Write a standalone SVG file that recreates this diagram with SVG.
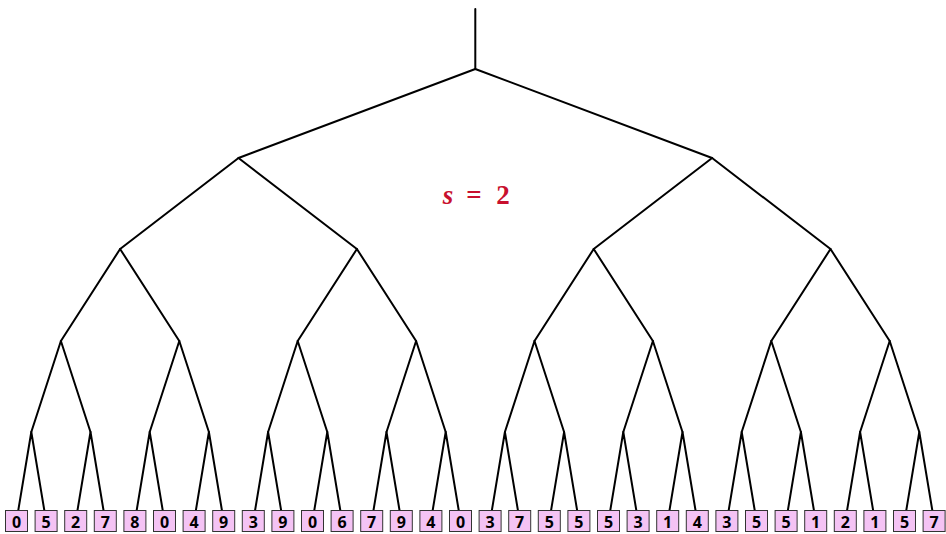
<svg xmlns="http://www.w3.org/2000/svg" width="946" height="534" viewBox="0 0 946 534">
<style>
.e{stroke:#000;stroke-width:2;fill:none;stroke-linecap:round}
.b{fill:#f4c3f4;stroke:#333;stroke-width:1}
.t{font-family:"Open Sans","DejaVu Sans",sans-serif;font-weight:bold;font-size:16px;text-anchor:middle;fill:#000}
.s{font-family:"Liberation Serif",serif;font-weight:bold;font-size:27px;fill:#c8102e;text-anchor:middle}
</style>
<rect width="946" height="534" fill="#fff"/>
<g id="connectors">
<path class="e" d="M475.3,9V69"/>
<path class="e" d="M475.3,69L238.5,158M475.3,69L712.1,158"/>
<path class="e" d="M238.5,158L120.1,249M238.5,158L356.9,249M712.1,158L593.7,249M712.1,158L830.5,249"/>
<path class="e" d="M120.1,249L60.9,341M120.1,249L179.3,341M356.9,249L297.7,341M356.9,249L416.1,341M593.7,249L534.5,341M593.7,249L652.9,341M830.5,249L771.3,341M830.5,249L889.7,341"/>
<path class="e" d="M60.9,341L31.3,432M60.9,341L90.5,432M179.3,341L149.7,432M179.3,341L208.9,432M297.7,341L268.1,432M297.7,341L327.3,432M416.1,341L386.5,432M416.1,341L445.7,432M534.5,341L504.9,432M534.5,341L564.1,432M652.9,341L623.3,432M652.9,341L682.5,432M771.3,341L741.7,432M771.3,341L800.9,432M889.7,341L860.1,432M889.7,341L919.3,432"/>
<path class="e" d="M31.3,432L16.5,521M31.3,432L46.1,521M90.5,432L75.7,521M90.5,432L105.3,521M149.7,432L134.9,521M149.7,432L164.5,521M208.9,432L194.1,521M208.9,432L223.7,521M268.1,432L253.3,521M268.1,432L282.9,521M327.3,432L312.5,521M327.3,432L342.1,521M386.5,432L371.7,521M386.5,432L401.3,521M445.7,432L430.9,521M445.7,432L460.5,521M504.9,432L490.1,521M504.9,432L519.7,521M564.1,432L549.3,521M564.1,432L578.9,521M623.3,432L608.5,521M623.3,432L638.1,521M682.5,432L667.7,521M682.5,432L697.3,521M741.7,432L726.9,521M741.7,432L756.5,521M800.9,432L786.1,521M800.9,432L815.7,521M860.1,432L845.3,521M860.1,432L874.9,521M919.3,432L904.5,521M919.3,432L934.1,521"/>
</g>
<g id="label">
<text class="s" x="448" y="204" font-style="italic" font-size="31">s</text>
<text class="s" x="474" y="204" font-size="29">=</text>
<text class="s" x="503" y="204">2</text>
</g>
<g id="leaves">
<g id="l0"><rect class="b" x="5.5" y="510.5" width="22" height="21"/><text class="t" x="16.5" y="528">0</text></g>
<g id="l1"><rect class="b" x="35.1" y="510.5" width="22" height="21"/><text class="t" x="46.1" y="528">5</text></g>
<g id="l2"><rect class="b" x="64.7" y="510.5" width="22" height="21"/><text class="t" x="75.7" y="528">2</text></g>
<g id="l3"><rect class="b" x="94.3" y="510.5" width="22" height="21"/><text class="t" x="105.3" y="528">7</text></g>
<g id="l4"><rect class="b" x="123.9" y="510.5" width="22" height="21"/><text class="t" x="134.9" y="528">8</text></g>
<g id="l5"><rect class="b" x="153.5" y="510.5" width="22" height="21"/><text class="t" x="164.5" y="528">0</text></g>
<g id="l6"><rect class="b" x="183.1" y="510.5" width="22" height="21"/><text class="t" x="194.1" y="528">4</text></g>
<g id="l7"><rect class="b" x="212.7" y="510.5" width="22" height="21"/><text class="t" x="223.7" y="528">9</text></g>
<g id="l8"><rect class="b" x="242.3" y="510.5" width="22" height="21"/><text class="t" x="253.3" y="528">3</text></g>
<g id="l9"><rect class="b" x="271.9" y="510.5" width="22" height="21"/><text class="t" x="282.9" y="528">9</text></g>
<g id="l10"><rect class="b" x="301.5" y="510.5" width="22" height="21"/><text class="t" x="312.5" y="528">0</text></g>
<g id="l11"><rect class="b" x="331.1" y="510.5" width="22" height="21"/><text class="t" x="342.1" y="528">6</text></g>
<g id="l12"><rect class="b" x="360.7" y="510.5" width="22" height="21"/><text class="t" x="371.7" y="528">7</text></g>
<g id="l13"><rect class="b" x="390.3" y="510.5" width="22" height="21"/><text class="t" x="401.3" y="528">9</text></g>
<g id="l14"><rect class="b" x="419.9" y="510.5" width="22" height="21"/><text class="t" x="430.9" y="528">4</text></g>
<g id="l15"><rect class="b" x="449.5" y="510.5" width="22" height="21"/><text class="t" x="460.5" y="528">0</text></g>
<g id="l16"><rect class="b" x="479.1" y="510.5" width="22" height="21"/><text class="t" x="490.1" y="528">3</text></g>
<g id="l17"><rect class="b" x="508.7" y="510.5" width="22" height="21"/><text class="t" x="519.7" y="528">7</text></g>
<g id="l18"><rect class="b" x="538.3" y="510.5" width="22" height="21"/><text class="t" x="549.3" y="528">5</text></g>
<g id="l19"><rect class="b" x="567.9" y="510.5" width="22" height="21"/><text class="t" x="578.9" y="528">5</text></g>
<g id="l20"><rect class="b" x="597.5" y="510.5" width="22" height="21"/><text class="t" x="608.5" y="528">5</text></g>
<g id="l21"><rect class="b" x="627.1" y="510.5" width="22" height="21"/><text class="t" x="638.1" y="528">3</text></g>
<g id="l22"><rect class="b" x="656.7" y="510.5" width="22" height="21"/><text class="t" x="667.7" y="528">1</text></g>
<g id="l23"><rect class="b" x="686.3" y="510.5" width="22" height="21"/><text class="t" x="697.3" y="528">4</text></g>
<g id="l24"><rect class="b" x="715.9" y="510.5" width="22" height="21"/><text class="t" x="726.9" y="528">3</text></g>
<g id="l25"><rect class="b" x="745.5" y="510.5" width="22" height="21"/><text class="t" x="756.5" y="528">5</text></g>
<g id="l26"><rect class="b" x="775.1" y="510.5" width="22" height="21"/><text class="t" x="786.1" y="528">5</text></g>
<g id="l27"><rect class="b" x="804.7" y="510.5" width="22" height="21"/><text class="t" x="815.7" y="528">1</text></g>
<g id="l28"><rect class="b" x="834.3" y="510.5" width="22" height="21"/><text class="t" x="845.3" y="528">2</text></g>
<g id="l29"><rect class="b" x="863.9" y="510.5" width="22" height="21"/><text class="t" x="874.9" y="528">1</text></g>
<g id="l30"><rect class="b" x="893.5" y="510.5" width="22" height="21"/><text class="t" x="904.5" y="528">5</text></g>
<g id="l31"><rect class="b" x="923.1" y="510.5" width="22" height="21"/><text class="t" x="934.1" y="528">7</text></g>
</g>
</svg>
